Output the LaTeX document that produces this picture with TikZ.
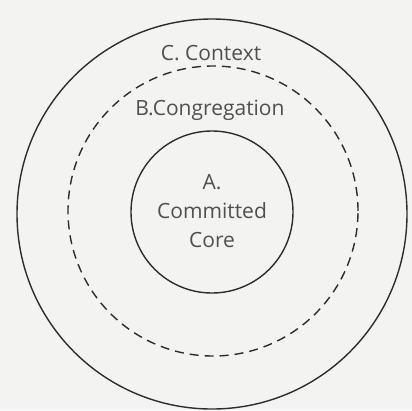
\documentclass[tikz,border=0pt]{standalone}
\usepackage{fontspec}
\setmainfont{Open Sans}
\definecolor{bg}{RGB}{243,243,241}
\definecolor{ink}{RGB}{45,45,45}
\definecolor{txt}{RGB}{80,80,80}
\begin{document}
\begin{tikzpicture}[x=1pt,y=-1pt,
  ring/.style={circle,draw=ink,line width=1.4pt,inner sep=0pt},
  lbl/.style={text=txt,font=\fontsize{21}{29}\selectfont,align=center}]
\fill[bg] (0,0) rectangle (412,410);
\useasboundingbox (0,0) rectangle (412,410);
\node[ring,minimum size=390pt] (outer) at (212,214) {};
\node[ring,dash pattern=on 9pt off 6pt,minimum size=290pt] (mid) at (213,211) {};
\node[ring,minimum size=162pt] (inner) at (212,212) {};
\node[lbl] (c) at (211,53) {C. Context};
\node[lbl] (b) at (210,110) {B.Congregation};
\node[lbl] (a) at (212,211) {A.\\Committed\\Core};
\end{tikzpicture}
\end{document}
